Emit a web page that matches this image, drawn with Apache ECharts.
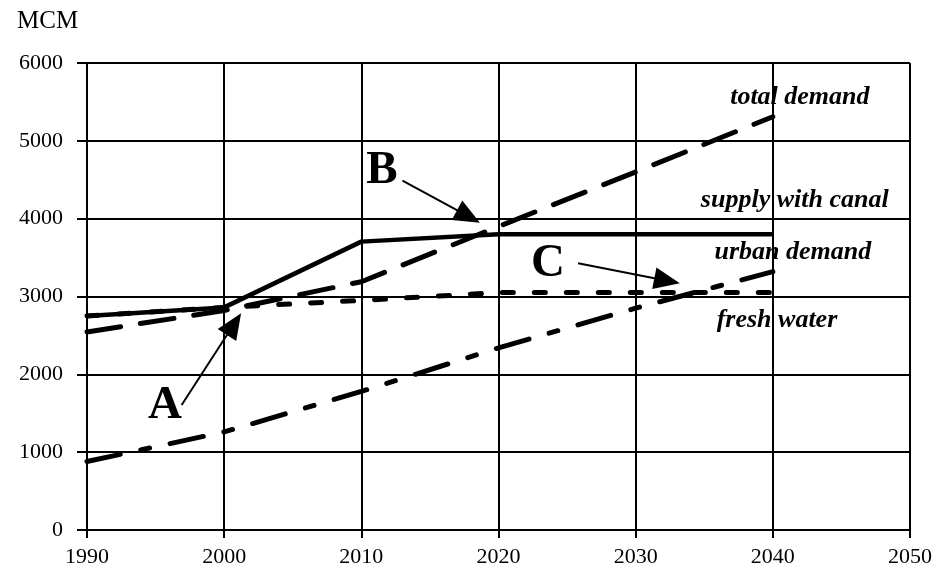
<!DOCTYPE html>
<html>
<head>
<meta charset="utf-8">
<script src="https://cdn.jsdelivr.net/npm/echarts@6/dist/echarts.min.js"></script>
<style>
  html, body { margin: 0; padding: 0; background: #fff; }
  #chart { width: 938px; height: 580px; }
</style>
</head>
<body>
<div id="chart"></div>
<script>
// ---- data ----
var years = [1990, 2000, 2010, 2020, 2030, 2040];
var supplyWithCanal = [2750, 2860, 3705, 3800, 3800, 3800];
var totalDemand = [2545, 2820, 3190, 3900, 4600, 5310];
var freshWater = [2750, 2860, 2950, 3050, 3050, 3050];
var urbanDemand = [880, 1260, 1780, 2340, 2850, 3320];

var xTicks = { min: 1990, max: 2050, step: 10 };
var yTicks = { min: 0, max: 6000, step: 1000 };

// text annotations (data space)
var seriesLabels = [
  { text: 'total demand', x: 2041.97, y: 5563 },
  { text: 'supply with canal', x: 2041.6, y: 4240 },
  { text: 'urban demand', x: 2041.46, y: 3572 },
  { text: 'fresh water', x: 2040.3, y: 2698 }
];
var letters = [
  { text: 'A', x: 1995.69, y: 1596 },
  { text: 'B', x: 2011.5, y: 4613 },
  { text: 'C', x: 2023.6, y: 3418 }
];
var arrows = [
  { from: [1996.9, 1606], to: [2000.72, 2646] },
  { from: [2013.0, 4488], to: [2017.81, 4028] },
  { from: [2025.8, 3427], to: [2032.29, 3202] }
];

function pairs(xs, ys) { return xs.map(function (x, i) { return [x, ys[i]]; }); }

var serif = 'Liberation Serif, Times New Roman, serif';
function plain(v) { return String(v); }

var chart = echarts.init(document.getElementById('chart'));
chart.setOption({
  animation: false,
  backgroundColor: '#fff',
  title: {
    text: 'MCM', left: 12, top: 4,
    textStyle: { fontFamily: serif, fontSize: 25, fontWeight: 'normal', color: '#000' }
  },
  grid: { left: 87, right: 28, top: 63, bottom: 50, containLabel: false },
  xAxis: {
    type: 'value', min: xTicks.min, max: xTicks.max, interval: xTicks.step,
    axisLine: { show: true, lineStyle: { color: '#000', width: 2 } },
    axisTick: { show: true, length: 8, lineStyle: { color: '#000', width: 2 } },
    axisLabel: { margin: 16, fontFamily: serif, fontSize: 22, color: '#000', formatter: plain },
    splitLine: { show: true, lineStyle: { color: '#000', width: 2 } }
  },
  yAxis: {
    type: 'value', min: yTicks.min, max: yTicks.max, interval: yTicks.step,
    axisLine: { show: true, lineStyle: { color: '#000', width: 2 } },
    axisTick: { show: true, length: 10, lineStyle: { color: '#000', width: 2 } },
    axisLabel: { margin: 24, fontFamily: serif, fontSize: 22, color: '#000', formatter: plain },
    splitLine: { show: true, lineStyle: { color: '#000', width: 2 } }
  },
  series: [
    {
      name: 'supply with canal', type: 'line', data: pairs(years, supplyWithCanal),
      showSymbol: false, symbol: 'none',
      lineStyle: { color: '#000', width: 4.5, type: 'solid' }, z: 5
    },
    {
      name: 'total demand', type: 'line', data: pairs(years, totalDemand),
      showSymbol: false, symbol: 'none',
      lineStyle: { color: '#000', width: 5, type: [34, 20], cap: 'round' }, z: 4
    },
    {
      name: 'fresh water', type: 'line', data: pairs(years, freshWater),
      showSymbol: false, symbol: 'none',
      lineStyle: { color: '#000', width: 5, type: [11, 21], cap: 'round' }, z: 4
    },
    {
      name: 'urban demand', type: 'line', data: pairs(years, urbanDemand),
      showSymbol: false, symbol: 'none',
      lineStyle: { color: '#000', width: 5, type: [34, 21, 9, 21], cap: 'round' }, z: 4
    },
    {
      name: 'annotations', type: 'line', data: [], z: 6,
      markPoint: {
        silent: true, symbol: 'circle', symbolSize: 1,
        itemStyle: { color: 'rgba(0,0,0,0)' },
        data: seriesLabels.map(function (d) {
          return {
            coord: [d.x, d.y], value: d.text,
            label: {
              show: true, position: 'inside', formatter: d.text,
              fontFamily: serif, fontSize: 26, fontWeight: 'bold', fontStyle: 'italic', color: '#000'
            }
          };
        }).concat(letters.map(function (d) {
          return {
            coord: [d.x, d.y], value: d.text,
            label: {
              show: true, position: 'inside', formatter: d.text,
              fontFamily: serif, fontSize: 47, fontWeight: 'bold', color: '#000'
            }
          };
        }))
      },
      markLine: {
        silent: true, symbol: ['none', 'triangle'], symbolSize: [22, 26],
        label: { show: false },
        lineStyle: { color: '#000', width: 2, type: 'solid' },
        data: arrows.map(function (a) {
          return [{ coord: a.from }, { coord: a.to }];
        })
      }
    }
  ]
});
</script>
</body>
</html>
